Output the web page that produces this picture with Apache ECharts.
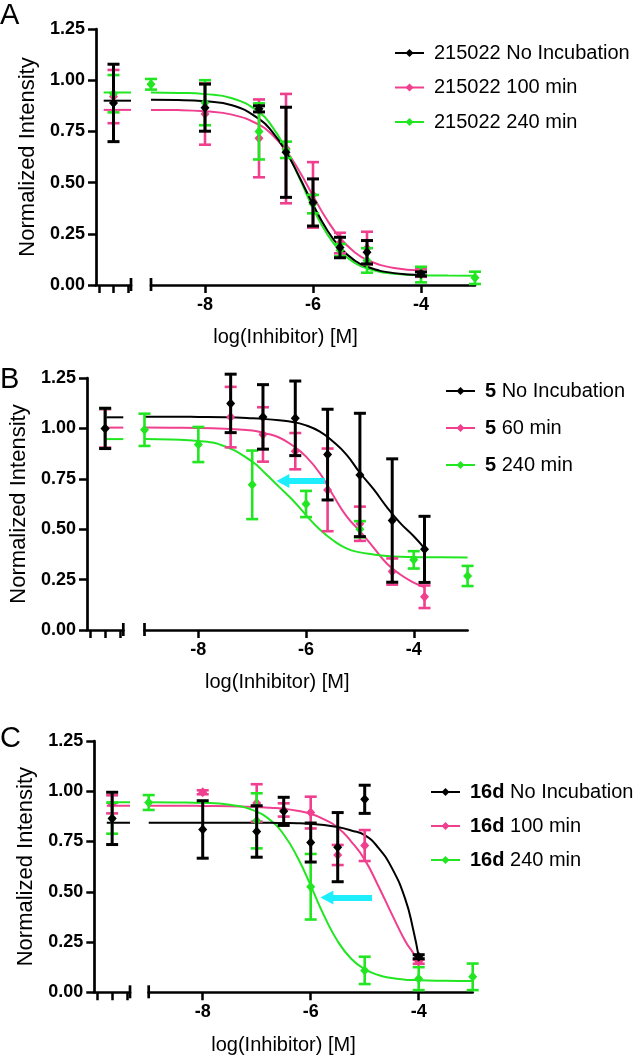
<!DOCTYPE html>
<html><head><meta charset="utf-8">
<script src="https://cdn.jsdelivr.net/npm/echarts@6/dist/echarts.min.js"></script>
<style>html,body{margin:0;padding:0;background:#fff}#c{width:634px;height:1056px}</style>
</head><body><div id="c"></div><script>
// ---------- shared ----------
const xTickValues = [-8, -6, -4];
const ctrlTickValues = [0.09, 0.5, 0.91];
const ctrlX = 0.5;
const yTitle = 'Normalized Intensity';
const xTitle = 'log(Inhibitor) [M]';
const panelLetters = ['A', 'B', 'C'];

// ---------- Panel A ----------
const A_names = ['215022 No Incubation', '215022 100 min', '215022 240 min'];
const A_black_x = [-8, -7, -6.5, -6, -5.5, -5, -4];
const A_black_y = [0.866, 0.86, 0.648, 0.403, 0.183, 0.16, 0.054];
const A_black_e = [0.115, 0.015, 0.22, 0.115, 0.05, 0.057, 0.01];
const A_black_ctrl = [0.889, 0.189];
const A_pink_x = [-8, -7, -6.5, -6, -5.5, -5, -4];
const A_pink_y = [0.835, 0.716, 0.666, 0.44, 0.205, 0.18, 0.06];
const A_pink_e = [0.15, 0.19, 0.267, 0.16, 0.05, 0.08, 0.02];
const A_pink_ctrl = [0.92, 0.13];
const A_green_x = [-9, -8, -7, -6.5, -6, -5.5, -5, -4, -3];
const A_green_y = [0.98, 0.89, 0.75, 0.66, 0.395, 0.17, 0.12, 0.051, 0.035];
const A_green_e = [0.026, 0.11, 0.137, 0.04, 0.045, 0.03, 0.06, 0.038, 0.03];
const A_green_ctrl = [0.934, 0.091];
const A_curveX = [-9, -8.5, -8, -7.5, -7, -6.75, -6.5, -6.25, -6, -5.75, -5.5, -5.25, -5, -4.5, -4, -3.5, -3];
const A_black_curve = [0.904, 0.903, 0.897, 0.878, 0.811, 0.746, 0.651, 0.526, 0.393, 0.273, 0.183, 0.124, 0.089, 0.058, 0.049, null, null];
const A_pink_curve = [0.855, 0.854, 0.848, 0.832, 0.783, 0.732, 0.656, 0.554, 0.436, 0.322, 0.230, 0.165, 0.123, 0.083, 0.071, null, null];
const A_green_curve = [0.94, 0.938, 0.932, 0.912, 0.844, 0.771, 0.661, 0.522, 0.376, 0.254, 0.166, 0.112, 0.081, 0.055, 0.048, 0.046, 0.045];
const A_plateau = [0.90, 0.855, 0.94];   // black, pink, green
const A_plateauStart = 0.22;

// ---------- Panel B ----------
const B_names = ['5 No Incubation', '5 60 min', '5 240 min'];
const B_black_x = [-7.4, -6.8, -6.2, -5.6, -5, -4.4, -3.8];
const B_black_y = [1.124, 1.057, 1.05, 0.87, 0.769, 0.543, 0.40];
const B_black_e = [0.145, 0.16, 0.185, 0.225, 0.306, 0.306, 0.164];
const B_black_ctrl = [1.0, 0.10];
const B_pink_x = [-7.4, -6.8, -6.2, -5.6, -5, -4.4, -3.8];
const B_pink_y = [1.056, 0.97, 0.887, 0.695, 0.527, 0.29, 0.165];
const B_pink_e = [0.15, 0.135, 0.09, 0.205, 0.085, 0.065, 0.056];
const B_pink_ctrl = [1.0, 0.095];
const B_green_x = [-9, -8, -7, -6, -5, -4, -3];
const B_green_y = [0.993, 0.92, 0.72, 0.625, 0.50, 0.348, 0.268];
const B_green_e = [0.08, 0.087, 0.17, 0.065, 0.04, 0.043, 0.05];
const B_green_ctrl = [1.0, 0.10];
const B_curveX = [-9, -8.5, -8, -7.5, -7, -6.75, -6.5, -6.25, -6, -5.75, -5.5, -5.25, -5, -4.75, -4.5, -4.25, -4, -3.8, -3.5, -3];
const B_black_curve = [1.058, 1.058, 1.057, 1.055, 1.05, 1.046, 1.04, 1.032, 1.015, 0.985, 0.935, 0.87, 0.78, 0.70, 0.61, 0.53, 0.465, 0.405, null, null];
const B_pink_curve = [1.004, 1.003, 1.002, 0.998, 0.99, 0.975, 0.955, 0.915, 0.86, 0.78, 0.67, 0.565, 0.49, 0.41, 0.33, 0.275, 0.235, 0.212, null, null];
const B_green_curve = [0.947, 0.945, 0.938, 0.91, 0.835, 0.775, 0.71, 0.645, 0.57, 0.50, 0.445, 0.405, 0.385, 0.375, 0.367, 0.363, 0.362, 0.361, 0.361, 0.36];
const B_plateau = [1.055, 1.004, 0.947];
const B_plateauStart = 0.5;
const B_arrow = [-5.65, -6.43, 0.739];   // from x, to x, y

// ---------- Panel C ----------
const C_names = ['16d No Incubation', '16d 100 min', '16d 240 min'];
const C_black_x = [-8, -7, -6.5, -6, -5.5, -5, -4];
const C_black_y = [0.81, 0.80, 0.90, 0.745, 0.722, 0.96, 0.177];
const C_black_e = [0.143, 0.128, 0.07, 0.097, 0.172, 0.07, 0.01];
const C_black_ctrl = [0.865, 0.13];
const C_pink_x = [-8, -7, -6.5, -6, -5.5, -5, -4];
const C_pink_y = [0.995, 0.942, 0.907, 0.894, 0.683, 0.73, 0.152];
const C_pink_e = [0.01, 0.093, 0.033, 0.079, 0.05, 0.077, 0.01];
const C_pink_ctrl = [0.935, 0.045];
const C_green_x = [-9, -7, -6, -5, -4, -3];
const C_green_y = [0.944, 0.853, 0.525, 0.109, 0.068, 0.077];
const C_green_e = [0.037, 0.137, 0.163, 0.068, 0.057, 0.066];
const C_green_ctrl = [0.866, 0.077];
const C_curveX = [-9, -8.5, -8, -7.5, -7, -6.75, -6.5, -6.25, -6, -5.75, -5.5, -5.25, -5, -4.75, -4.5, -4.25, -4.1, -4, -3.5, -3];
const C_black_curve = [0.843, 0.843, 0.843, 0.843, 0.843, 0.843, 0.842, 0.841, 0.838, 0.832, 0.822, 0.805, 0.782, 0.72, 0.62, 0.465, 0.31, 0.177, null, null];
const C_pink_curve = [0.928, 0.928, 0.927, 0.925, 0.922, 0.918, 0.913, 0.903, 0.888, 0.86, 0.82, 0.75, 0.66, 0.53, 0.39, 0.255, 0.195, 0.152, null, null];
const C_green_curve = [0.945, 0.944, 0.942, 0.933, 0.899, 0.857, 0.785, 0.674, 0.531, 0.380, 0.254, 0.167, 0.115, 0.086, 0.071, 0.063, 0.061, 0.06, 0.057, 0.056];
const C_plateau = [0.843, 0.928, 0.945];
const C_plateauStart = 0.35;
const C_arrow = [-4.865, -5.70, 0.472];

// ---------- styling / layout ----------
const FONT = '"Liberation Sans", Arial, Helvetica, sans-serif';
const COLORS = ['#000000', '#ef3f8e', '#22e622'];
const CYAN = '#1eeefc';
const ERR_W = [3, 2.6, 2.6];

const layout = [
  {axisX: 96, ctrlEnd: 131, mainL: 151, mainR: 475, top: 29, bottom: 285, legL: 389, legT: 38, legGap: 14.5, titleY: 337, letterY: 1, bold: null},
  {axisX: 87, ctrlEnd: 123.3, mainL: 144.5, mainR: 467.6, top: 378, bottom: 630, legL: 440, legT: 376, legGap: 17, titleY: 682, letterY: 365, bold: '5'},
  {axisX: 94.3, ctrlEnd: 130, mainL: 148.7, mainR: 472.7, top: 741, bottom: 992.3, legL: 425, legT: 777, legGap: 14, titleY: 1045, letterY: 724, bold: '16d'}
];

const panels = [
  {names: A_names, xs: [A_black_x, A_pink_x, A_green_x], ys: [A_black_y, A_pink_y, A_green_y], es: [A_black_e, A_pink_e, A_green_e],
   ctrl: [A_black_ctrl, A_pink_ctrl, A_green_ctrl], curveX: A_curveX, curves: [A_black_curve, A_pink_curve, A_green_curve],
   plateau: A_plateau, plateauStart: A_plateauStart, arrow: null},
  {names: B_names, xs: [B_black_x, B_pink_x, B_green_x], ys: [B_black_y, B_pink_y, B_green_y], es: [B_black_e, B_pink_e, B_green_e],
   ctrl: [B_black_ctrl, B_pink_ctrl, B_green_ctrl], curveX: B_curveX, curves: [B_black_curve, B_pink_curve, B_green_curve],
   plateau: B_plateau, plateauStart: B_plateauStart, arrow: B_arrow},
  {names: C_names, xs: [C_black_x, C_pink_x, C_green_x], ys: [C_black_y, C_pink_y, C_green_y], es: [C_black_e, C_pink_e, C_green_e],
   ctrl: [C_black_ctrl, C_pink_ctrl, C_green_ctrl], curveX: C_curveX, curves: [C_black_curve, C_pink_curve, C_green_curve],
   plateau: C_plateau, plateauStart: C_plateauStart, arrow: C_arrow}
];

function errRender(color, lw) {
  return function (params, api) {
    const x = api.value(0), m = api.value(1), e = api.value(2);
    const c = api.coord([x, m]);
    const t = api.coord([x, m + e]);
    const b = api.coord([x, m - e]);
    const cw = 6;
    const st = {stroke: color, lineWidth: lw, fill: null};
    return {type: 'group', children: [
      {type: 'line', shape: {x1: t[0], y1: t[1], x2: b[0], y2: b[1]}, style: st},
      {type: 'line', shape: {x1: t[0] - cw, y1: t[1], x2: t[0] + cw, y2: t[1]}, style: st},
      {type: 'line', shape: {x1: b[0] - cw, y1: b[1], x2: b[0] + cw, y2: b[1]}, style: st},
      {type: 'polygon', shape: {points: [[c[0], c[1] - 5], [c[0] + 4.5, c[1]], [c[0], c[1] + 5], [c[0] - 4.5, c[1]]]}, style: {fill: color}}
    ]};
  };
}

const grids = [], xAxes = [], yAxes = [], series = [], legends = [], graphics = [];
const axisLineStyle = {color: '#000', width: 2.7};
const tickStyle = {color: '#000', width: 2.5};

panels.forEach((p, pi) => {
  const L = layout[pi];
  const gi = grids.length;
  grids.push({left: L.axisX, width: L.ctrlEnd - L.axisX, top: L.top, height: L.bottom - L.top});
  grids.push({left: L.mainL, width: L.mainR - L.mainL, top: L.top, height: L.bottom - L.top});
  xAxes.push({gridIndex: gi, type: 'value', min: 0, max: 1,
    axisLine: {show: true, onZero: false, lineStyle: axisLineStyle},
    axisTick: {show: true, length: 8, lineStyle: tickStyle, customValues: ctrlTickValues},
    axisLabel: {show: false}, splitLine: {show: false}});
  xAxes.push({gridIndex: gi + 1, type: 'value', min: -9, max: -3,
    axisLine: {show: true, onZero: false, lineStyle: axisLineStyle},
    axisTick: {show: true, length: 8, lineStyle: tickStyle, customValues: xTickValues},
    axisLabel: {show: true, customValues: xTickValues, margin: 11, color: '#000', fontSize: 18, fontWeight: 'bold', fontFamily: FONT},
    splitLine: {show: false}});
  yAxes.push({gridIndex: gi, type: 'value', min: 0, max: 1.25, interval: 0.25,
    axisLine: {show: true, onZero: false, lineStyle: axisLineStyle},
    axisTick: {show: true, length: 8, lineStyle: tickStyle},
    axisLabel: {margin: 11, color: '#000', fontSize: 18, fontWeight: 'bold', fontFamily: FONT, formatter: v => v.toFixed(2)},
    splitLine: {show: false},
    name: yTitle, nameLocation: 'middle', nameRotate: 90, nameGap: 57,
    nameTextStyle: {fontSize: 22, color: '#000', fontFamily: FONT}});
  yAxes.push({gridIndex: gi + 1, type: 'value', min: 0, max: 1.25, show: false});

  // curves (legend carriers), drawn first
  [1, 2, 0].forEach(g => {
    const data = [];
    p.curveX.forEach((x, i) => { if (p.curves[g][i] != null) data.push([x, p.curves[g][i]]); });
    const s = {type: 'line', name: p.names[g], xAxisIndex: gi + 1, yAxisIndex: gi + 1, data,
      smooth: 0.5, showSymbol: false, symbol: 'diamond', symbolSize: [8, 10],
      lineStyle: {color: COLORS[g], width: 2}, itemStyle: {color: COLORS[g]}, clip: false, z: 2, silent: true};
    if (g === 2 && p.arrow) {
      s.markLine = {silent: true, symbol: ['none', 'triangle'], symbolSize: [14, 13],
        lineStyle: {color: CYAN, width: 6, type: 'solid'}, itemStyle: {color: CYAN}, label: {show: false},
        data: [[{coord: [p.arrow[0], p.arrow[2]]}, {coord: [p.arrow[1], p.arrow[2]]}]]};
    }
    series.push(s);
    series.push({type: 'line', name: p.names[g] + ' (plateau)', xAxisIndex: gi, yAxisIndex: gi,
      data: [[p.plateauStart, p.plateau[g]], [1, p.plateau[g]]], showSymbol: false, symbol: 'none',
      lineStyle: {color: COLORS[g], width: 2}, clip: false, z: 2, silent: true});
  });
  // data points with error bars
  [1, 2, 0].forEach(g => {
    const data = p.xs[g].map((x, i) => [x, p.ys[g][i], p.es[g][i]]);
    series.push({type: 'custom', name: p.names[g] + ' (data)', xAxisIndex: gi + 1, yAxisIndex: gi + 1,
      data, encode: {x: 0, y: 1}, renderItem: errRender(COLORS[g], ERR_W[g]), z: 3, silent: true});
    series.push({type: 'custom', name: p.names[g] + ' (ctrl)', xAxisIndex: gi, yAxisIndex: gi,
      data: [[ctrlX, p.ctrl[g][0], p.ctrl[g][1]]], encode: {x: 0, y: 1}, renderItem: errRender(COLORS[g], ERR_W[g]), z: 3, silent: true});
  });

  const bold = L.bold;
  legends.push({orient: 'vertical', left: L.legL, top: L.legT, itemWidth: 29, itemHeight: 10, itemGap: L.legGap,
    selectedMode: false, data: p.names,
    textStyle: {fontSize: 20, color: '#000', fontFamily: FONT, padding: [0, 0, 0, 5],
      rich: {b: {fontSize: 20, fontWeight: 'bold', color: '#000', fontFamily: FONT}, n: {fontSize: 20, color: '#000', fontFamily: FONT}}},
    formatter: name => bold && name.indexOf(bold + ' ') === 0 ? '{b|' + bold + '}{n| ' + name.slice(bold.length + 1) + '}' : name
  });

  // decorations: axis break marks, titles, letters
  [L.ctrlEnd, L.mainL].forEach(xp => graphics.push({type: 'line', shape: {x1: xp, y1: L.bottom - 7, x2: xp, y2: L.bottom + 6},
    style: {stroke: '#000', lineWidth: 2.7}, z: 10}));
  graphics.push({type: 'text', x: (L.axisX + L.mainR) / 2, y: L.titleY,
    style: {text: xTitle, fontSize: 20, fontFamily: FONT, fill: '#000', align: 'center', verticalAlign: 'middle'}});
  graphics.push({type: 'text', x: 0, y: L.letterY,
    style: {text: panelLetters[pi], fontSize: 29, fontFamily: FONT, fill: '#000', align: 'left', verticalAlign: 'top'}});
});

const chart = echarts.init(document.getElementById('c'), null, {renderer: 'canvas'});
chart.setOption({
  animation: false,
  backgroundColor: '#ffffff',
  grid: grids, xAxis: xAxes, yAxis: yAxes, legend: legends, series, graphic: graphics
});
</script></body></html>
